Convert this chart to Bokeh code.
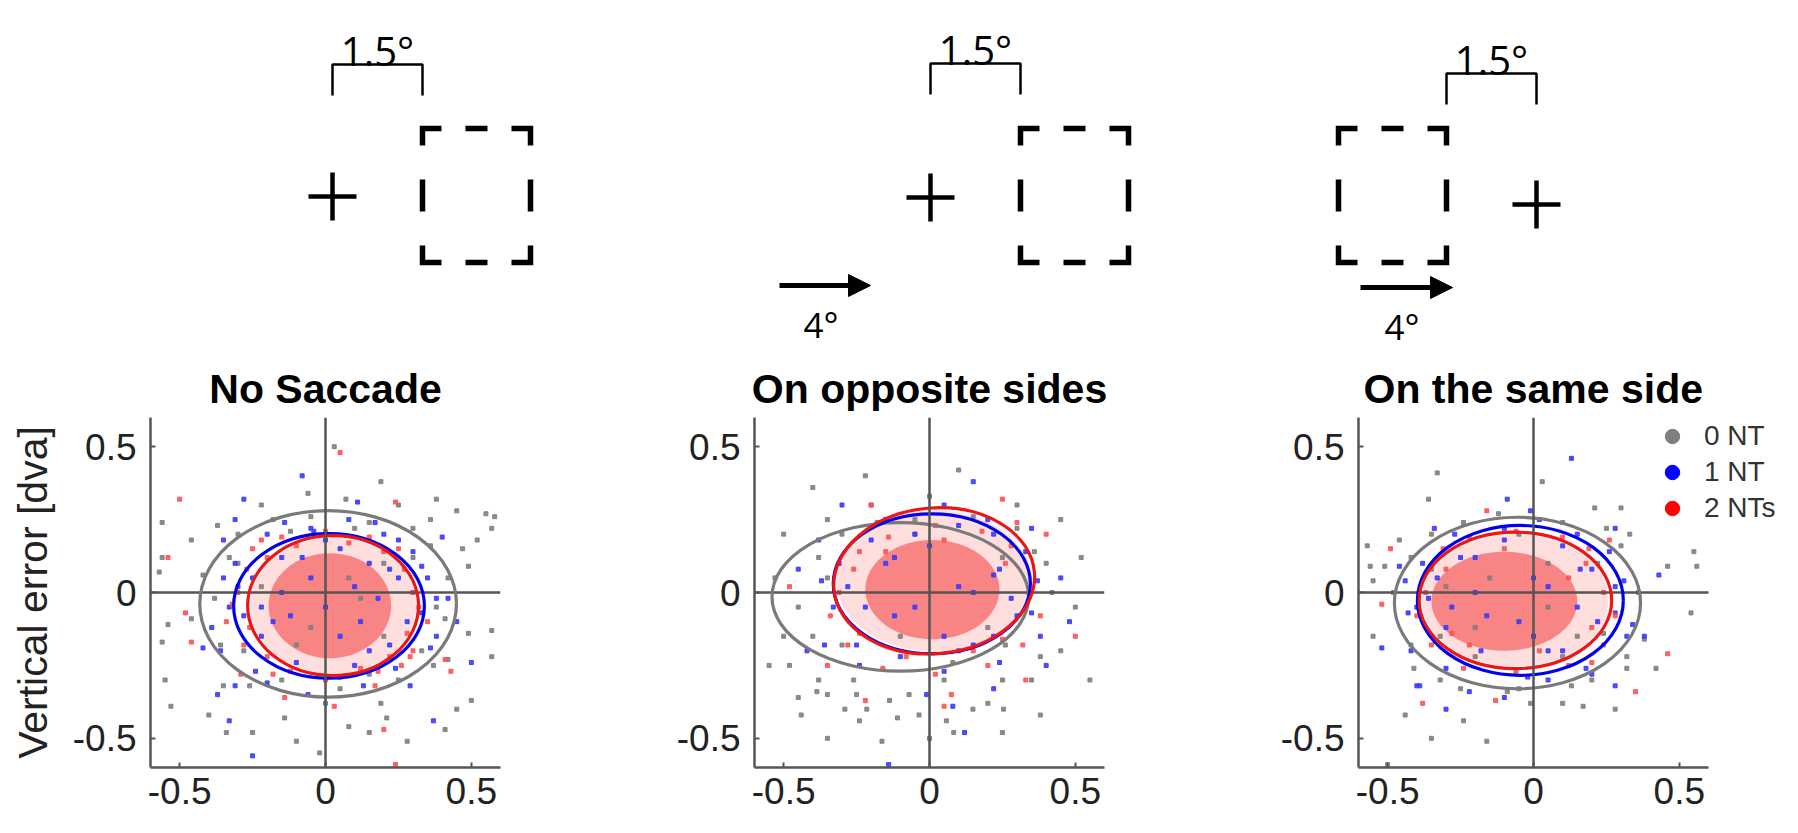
import math
from bokeh.plotting import figure
from bokeh.layouts import column, row
from bokeh.models import (Range1d, Span, FixedTicker, Legend, LegendItem,
                          ColumnDataSource, Arrow, NormalHead)
from bokeh.embed import file_html
from bokeh.resources import INLINE
from bokeh.core.properties import value

# ---------------- data ----------------
conditions = ["No Saccade", "On opposite sides", "On the same side"]
series_labels = ["0 NT", "1 NT", "2 NTs"]
tick_values = [-0.5, 0, 0.5]
tick_labels = ["-0.5", "0", "0.5"]
y_axis_title = "Vertical error [dva]"

# schematic (degrees of visual angle)
gap_deg = [1.5, 1.5, 1.5]          # fixation -> near edge of the target box
target_side = [1, 1, -1]           # target box right (+1) or left (-1) of fixation
saccade_deg = [0, 4, 4]            # saccade amplitude (0 = no saccade)

# error ellipses per panel: (centre x, centre y, semi-axis x, semi-axis y, angle deg)
ellipse_0nt = [(0.009, -0.039, 0.440, 0.320, 0), (-0.100, -0.015, 0.440, 0.255, 0), (-0.055, -0.036, 0.422, 0.294, 0)]
ellipse_1nt = [(0.012, -0.046, 0.327, 0.248, 0), (0.008, 0.030, 0.338, 0.240, 0), (-0.045, -0.027, 0.353, 0.257, 0)]
ellipse_2nts = [(0.026, -0.045, 0.293, 0.240, 0), (0.016, 0.040, 0.345, 0.250, 5), (-0.062, -0.027, 0.330, 0.234, 0)]

# dense core of the 2 NT cloud: (centre x, centre y, semi x, semi y)
core_2nts = [(0.015, -0.045, 0.21, 0.18), (0.010, 0.010, 0.23, 0.17), (-0.100, -0.030, 0.25, 0.17)]

# single trials (x error, y error)
nosac_0nt = [(0.03,0.50),(0.19,0.38),(0.38,0.32),(0.45,0.28),(0.55,0.27),(0.58,0.26),(0.57,0.22),(0.52,0.18),
             (0.49,0.09),(0.57,-0.13),(0.49,-0.14),(0.42,-0.23),(0.57,-0.22),(0.45,-0.40),(0.41,-0.47),(0.28,-0.51),
             (0.21,-0.43),(0.15,-0.48),(0.08,-0.46),(-0.02,-0.55),(-0.10,-0.51),(-0.14,-0.43),(-0.25,-0.48),(-0.34,-0.48),
             (-0.40,-0.42),(-0.53,-0.39),(-0.55,-0.30),(-0.56,-0.17),(-0.54,-0.11),(-0.57,0.07),(-0.56,0.12),(-0.56,0.24),
             (-0.46,0.18),(-0.37,0.23),(-0.22,0.30),(-0.06,0.34),(0.07,0.32),(0.25,0.30),(0.36,0.25),(0.47,0.15),
             (0.19,-0.38),(0.00,-0.38),(-0.35,-0.32),(-0.46,-0.09),(0.41,-0.09),(0.50,-0.37),
             (-0.30,0.10),(-0.28,-0.20),(0.30,0.12),(0.33,-0.20),(0.10,0.22),(-0.12,0.21),(0.15,-0.28),(-0.15,-0.30),
             (-0.38,-0.02),(0.38,-0.05),(0.20,0.10),(-0.05,-0.12),(0.08,0.05),
             (-0.33,0.12),(-0.36,-0.18),(0.36,0.16),(0.37,-0.25),(0.15,0.24),(-0.18,0.25),(0.25,-0.30),(-0.26,-0.32),
             (0.42,0.05),(-0.42,0.06),(0.05,-0.33),(-0.05,0.26),(0.30,0.22),(-0.30,0.20),(0.12,-0.02),(-0.10,-0.18),
             (0.20,-0.15),(-0.22,0.02)]
nosac_1nt = [(-0.08,0.40),(-0.28,0.32),(0.11,0.31),(-0.31,0.25),(-0.35,0.18),(0.40,0.19),(0.45,-0.10),(0.38,-0.02),
             (0.50,-0.24),(0.37,-0.44),(-0.33,-0.44),(-0.25,-0.56),(-0.42,-0.19),(-0.37,-0.35),(-0.31,-0.32),(-0.39,-0.12),
             (0.29,-0.32),(0.13,-0.32),(-0.14,0.24),(-0.04,0.21),(0.17,0.24),(0.25,0.18),(0.33,0.09),(0.42,-0.02),
             (0.36,-0.19),(-0.20,-0.31),(-0.06,-0.35),
             (-0.25,0.05),(-0.22,-0.15),(0.25,0.05),(0.22,-0.18),(0.05,0.15),(-0.08,0.12),(0.10,-0.25),(-0.10,-0.24),
             (-0.28,-0.08),(0.28,-0.10),(0.15,0.10),(-0.15,0.00),(0.00,-0.05),(0.12,-0.10),(-0.05,0.05),(0.18,-0.02),
             (-0.18,-0.10),(0.30,0.00),(-0.30,0.02),(0.00,0.18),
             (-0.33,-0.05),(-0.31,0.10),(0.33,-0.07),(0.30,0.14),(0.20,0.20),(-0.20,0.20),(0.24,-0.26),(-0.24,-0.27),
             (0.05,-0.29),(-0.05,0.22),(0.38,-0.15),(-0.36,-0.20),(0.10,0.02),(-0.12,-0.08),(0.05,-0.15),(0.22,0.08),
             (-0.22,-0.05),(0.08,0.25),(-0.15,0.12),(0.15,-0.20),(0.35,0.05),(-0.35,0.05)]
nosac_2nts = [(0.05,0.48),(-0.50,0.32),(-0.54,0.12),(-0.48,-0.07),(-0.46,-0.17),(0.24,-0.59),(0.41,-0.23),(0.43,-0.27),
              (0.24,0.31),(-0.22,0.18),(0.03,-0.39),(-0.14,-0.36),(0.29,-0.22),(0.17,-0.32),(-0.29,-0.28),(0.20,-0.47),
              (-0.27,0.08),(-0.26,-0.12),(0.27,0.08),(0.28,-0.14),(0.08,0.17),(-0.10,0.16),(0.12,-0.26),(-0.12,-0.27),
              (0.20,0.14),(-0.20,0.12),(0.22,-0.22),(-0.20,-0.22),(0.32,-0.05),(-0.32,-0.04),
              (-0.30,0.00),(-0.28,-0.18),(0.30,0.00),(0.30,-0.20),(0.15,0.19),(-0.15,0.19),(0.18,-0.27),(-0.18,-0.28),
              (0.00,0.21),(0.00,-0.30),(0.25,0.15),(-0.25,0.15),(0.35,-0.10),(-0.34,-0.10),(0.26,-0.25)]

opp_0nt = [(-0.40,0.36),(-0.22,0.40),(0.10,0.42),(0.30,0.30),(0.45,0.25),(0.52,0.12),(0.50,-0.05),(0.45,-0.20),
           (0.35,-0.30),(0.20,-0.38),(-0.25,-0.35),(-0.38,-0.30),(-0.50,-0.15),(-0.53,0.05),(-0.50,0.20),(-0.45,-0.36),
           (0.25,-0.48),(0.38,-0.42),(0.55,-0.30),(-0.20,0.30),(0.00,0.33),(0.40,0.10),(-0.55,-0.25),(-0.35,0.25),
           (-0.44,-0.42),(-0.35,-0.50),(-0.29,-0.40),(-0.24,-0.44),(-0.215,-0.40),(-0.163,-0.51),(-0.11,-0.43),
           (-0.036,-0.42),(-0.137,-0.37),(-0.386,-0.34),(0.00,-0.50),(0.058,-0.44),(0.083,-0.48),(0.149,-0.40),
           (0.254,-0.40),(-0.07,-0.35),
           (-0.35,0.05),(-0.30,-0.18),(0.25,0.12),(0.26,-0.18),(-0.05,0.20),(0.08,-0.24),
           (-0.38,0.12),(-0.40,-0.15),(0.36,0.14),(0.38,-0.22),(0.15,0.26),(-0.18,0.24),(0.25,-0.30),(-0.26,-0.30),
           (-0.45,-0.05),(0.05,-0.30),(-0.05,0.25),(0.30,0.22),(-0.30,0.20),(-0.10,-0.15),(0.20,-0.12),(-0.48,-0.25),
           (-0.35,-0.35),(0.42,0.00)]
opp_1nt = [(-0.30,0.30),(0.15,0.38),(0.35,0.22),(0.48,-0.10),(0.40,-0.25),(0.22,-0.33),(-0.14,-0.59),(0.12,-0.48),
           (0.08,-0.39),(-0.01,-0.35),(-0.42,-0.20),(-0.45,0.08),(-0.38,0.18),(0.05,0.30),(-0.15,0.25),(0.30,-0.08),
           (0.20,0.25),(0.45,0.05),
           (-0.28,0.02),(-0.25,-0.18),(0.24,0.08),(0.22,-0.15),(0.00,0.16),(-0.12,0.12),(0.10,-0.20),(-0.10,-0.22),
           (0.15,0.00),(-0.05,-0.05),(0.28,-0.02),
           (-0.33,-0.05),(-0.31,0.10),(0.35,-0.07),(0.33,0.14),(0.22,0.20),(-0.20,0.18),(0.24,-0.24),(-0.24,-0.25),
           (0.05,-0.27),(-0.05,0.20),(0.38,-0.15),(-0.36,-0.18),(0.10,0.02),(-0.12,-0.08),(0.05,-0.15),(0.22,0.06),
           (-0.22,-0.05),(0.10,0.23),(-0.15,0.10),(0.15,-0.18),(0.37,0.04),(-0.37,0.04)]
opp_2nts = [(-0.22,-0.37),(0.05,-0.39),(0.075,-0.35),(0.40,0.20),(-0.48,0.02),(0.50,-0.15),(0.25,0.32),(-0.35,-0.25),
            (0.33,-0.30),(-0.20,0.30),
            (-0.26,0.08),(-0.24,-0.14),(0.26,0.10),(0.25,-0.16),(0.05,0.18),(-0.08,-0.22),(0.15,-0.20),(-0.15,0.14),
            (-0.31,0.00),(-0.28,-0.18),(0.34,0.00),(0.32,-0.18),(0.18,0.21),(-0.14,0.19),(0.20,-0.25),(-0.16,-0.26),
            (0.02,0.23),(0.02,-0.28),(0.28,0.16),(-0.24,0.14),(0.38,-0.08),(-0.34,-0.08),(0.30,0.24)]

same_0nt = [(-0.33,0.41),(-0.36,0.32),(0.03,0.38),(0.21,0.29),(0.30,0.29),(0.33,0.20),(0.46,0.09),(0.55,0.14),
            (0.56,0.09),(0.54,-0.07),(0.38,-0.16),(0.42,-0.26),(0.32,-0.26),(0.17,-0.39),(0.28,-0.40),(0.10,-0.38),
            (-0.01,-0.38),(-0.16,-0.51),(-0.24,-0.44),(-0.35,-0.50),(-0.44,-0.42),(-0.50,-0.59),(-0.55,0.04),(-0.56,0.09),
            (-0.57,0.16),(-0.51,0.09),(-0.46,0.18),(-0.55,-0.15),(-0.41,-0.26),(-0.25,-0.33),(-0.09,-0.34),(0.13,-0.32),
            (-0.35,0.08),(-0.32,-0.15),(0.22,0.10),(0.24,-0.14),(-0.05,0.20),(0.10,-0.22),(-0.20,-0.22),(0.05,0.10),
            (-0.15,0.05),
            (-0.42,0.12),(-0.42,-0.18),(0.30,0.16),(0.32,-0.22),(0.10,0.24),(-0.24,0.24),(0.20,-0.30),(-0.32,-0.30),
            (-0.48,0.00),(0.36,0.00),(-0.05,-0.33),(-0.12,0.27),(0.25,0.22),(-0.35,0.20),(0.05,-0.05),(-0.20,-0.12),
            (0.15,-0.15),(-0.30,0.02)]
same_1nt = [(0.13,0.46),(-0.09,0.32),(0.28,0.22),(0.43,0.06),(0.38,-0.15),(0.28,-0.32),(-0.22,-0.34),(-0.39,-0.32),
            (-0.52,-0.19),(-0.46,0.09),(-0.34,0.22),(-0.01,0.28),(-0.10,-0.36),(0.05,-0.30),(0.20,-0.28),(0.34,-0.11),
            (-0.43,-0.07),(-0.30,-0.40),(-0.40,-0.32),
            (-0.33,0.05),(-0.30,-0.12),(0.20,0.08),(0.22,-0.10),(-0.10,0.18),(0.10,0.16),(0.05,-0.20),(-0.18,-0.20),
            (-0.25,0.12),(0.15,-0.05),(-0.05,-0.10),(0.00,0.05),(-0.20,0.00),(0.28,0.02),(-0.36,-0.02),
            (-0.40,-0.05),(-0.38,0.10),(0.28,-0.07),(0.26,0.14),(0.15,0.20),(-0.27,0.20),(0.18,-0.26),(-0.30,-0.26),
            (-0.02,-0.29),(-0.10,0.22),(0.32,-0.15),(-0.42,-0.20),(0.05,0.02),(-0.16,-0.08),(0.00,-0.15),(0.16,0.08),
            (-0.28,-0.05),(0.02,0.25),(-0.20,0.12),(0.10,-0.20),(0.31,0.04),(-0.44,0.04)]
same_2nts = [(-0.49,0.15),(-0.52,-0.04),(-0.38,-0.38),(0.35,-0.34),(0.46,-0.21),(-0.16,0.28),(-0.13,-0.37),(0.26,0.18),
             (-0.30,0.08),(-0.28,-0.14),(0.18,0.10),(0.20,-0.12),(-0.10,0.15),(0.02,-0.20),(-0.22,-0.18),(0.12,0.05),
             (-0.37,0.00),(-0.35,-0.18),(0.24,0.00),(0.24,-0.18),(0.10,0.19),(-0.22,0.19),(0.12,-0.25),(-0.24,-0.26),
             (-0.06,0.21),(-0.06,-0.27),(0.19,0.15),(-0.31,0.15),(0.28,-0.08),(-0.40,-0.08),(0.20,-0.24)]

trials = [[nosac_0nt, nosac_1nt, nosac_2nts],
          [opp_0nt, opp_1nt, opp_2nts],
          [same_0nt, same_1nt, same_2nts]]
ellipses = [ellipse_0nt, ellipse_1nt, ellipse_2nts]

# ---------------- style / layout ----------------
FONT = "Liberation Sans"
SCHEM_FONT = "Open Sans"
point_colors = ["#7f7f7f", "#3a3aff", "#ff5252"]
line_colors = ["#7a7a7a", "#0000ee", "#ee1515"]
legend_colors = ["#7f7f7f", "#0000ff", "#ff0000"]
X_LIM = 0.6
FRAME = 350
PX_PER_UNIT = FRAME / (2 * X_LIM)
PANEL_W = [604, 604, 574]
EXTRA_RIGHT = [0, 0, 74]          # last panel: frame widened so the legend is not clipped
BORDER_R = [104, 104, 0]
TOP_H = 350
PANEL_H = 467

# ---------------- top schematic ----------------
PX_PER_DEG = 60
fix_px = [332, 930, 1536]
fix_py = [196, 197, 204]
bracket_top = [64, 63, 73]
BOX_W, BOX_TOP, BOX_BOT = 108, 128, 262
arrow_end_px = [None, 870, 1452]
ARROW_LEN, ARROW_Y = [None, 91, 92], [None, 285, 287]

top = figure(width=1782, height=TOP_H, x_range=Range1d(0, 1782), y_range=Range1d(TOP_H, 0),
             output_backend="svg", toolbar_location=None, min_border=0,
             x_axis_location=None, y_axis_location=None)
top.grid.visible = False
top.outline_line_color = None

top.scatter(x=fix_px, y=fix_py, marker="cross", size=48, line_width=4.5, line_color="black")

br_xs, br_ys, tx, ty, tt = [], [], [], [], []
box_xs, box_ys = [], []
for i in range(3):
    f = fix_px[i]
    near = f + target_side[i] * gap_deg[i] * PX_PER_DEG
    a, b = sorted([f, near])
    t = bracket_top[i]
    br_xs.append([a, a, b, b]); br_ys.append([t + 31, t, t, t + 31])
    tx.append((a + b) / 2); ty.append(t - 14); tt.append(f"{gap_deg[i]}°")
    far = near + target_side[i] * BOX_W
    L, R = sorted([near, far])
    T, B = BOX_TOP, BOX_BOT
    ch, cv, mh, mv = 19, 17, 22, 32
    cx, cy = (L + R) / 2, (T + B) / 2
    box_xs += [[L + ch, L, L], [R - ch, R, R], [L + ch, L, L], [R - ch, R, R],
               [cx - mh / 2, cx + mh / 2], [cx - mh / 2, cx + mh / 2], [L, L], [R, R]]
    box_ys += [[T, T, T + cv], [T, T, T + cv], [B, B, B - cv], [B, B, B - cv],
               [T, T], [B, B], [cy - mv / 2, cy + mv / 2], [cy - mv / 2, cy + mv / 2]]

top.multi_line(xs=br_xs, ys=br_ys, line_width=2.5, line_color="black")
top.text(x=tx, y=ty, text=tt, text_align="center", text_baseline="alphabetic",
         text_font=value(SCHEM_FONT), text_font_size="40px", text_color="black")
top.multi_line(xs=box_xs, ys=box_ys, line_width=5.5, line_color="black",
               line_cap="butt", line_join="miter")

ax0, ax1, ay, lx, ly, lt = [], [], [], [], [], []
for i in range(3):
    if saccade_deg[i]:
        e = arrow_end_px[i]
        ax0.append(e - ARROW_LEN[i]); ax1.append(e); ay.append(ARROW_Y[i])
        lx.append(e - ARROW_LEN[i] + 24); ly.append(ARROW_Y[i] + 39); lt.append(f"{saccade_deg[i]}°")
arrow_src = ColumnDataSource(dict(x0=ax0, x1=ax1, y=ay))
top.add_layout(Arrow(source=arrow_src, x_start="x0", y_start="y", x_end="x1", y_end="y",
                     line_width=5, line_color="black",
                     end=NormalHead(size=22, fill_color="black", line_color="black", line_width=1)))
top.text(x=lx, y=ly, text=lt, text_align="left", text_baseline="alphabetic",
         text_font=value(SCHEM_FONT), text_font_size="35px", text_color="black")

# ---------------- scatter panels ----------------
panels = []
for i in range(3):
    x_end = -X_LIM + (FRAME + EXTRA_RIGHT[i]) / PX_PER_UNIT
    p = figure(width=PANEL_W[i], height=PANEL_H, x_range=Range1d(-X_LIM, x_end), y_range=Range1d(-X_LIM, X_LIM),
               output_backend="svg", toolbar_location=None,
               min_border_left=150, min_border_right=BORDER_R[i], min_border_top=67, min_border_bottom=50)
    p.grid.visible = False
    p.outline_line_color = None
    p.title.text = conditions[i]
    p.title.align = "center"
    p.title.text_font = FONT
    p.title.text_font_size = "41px"
    p.title.text_font_style = "bold"
    p.title.text_color = "black"
    p.title.standoff = 12
    if EXTRA_RIGHT[i]:
        # widened frame: left-align the title so that it stays centred over the axis area
        p.title.align = "left"
        p.title.offset = 5
    for ax in (p.xaxis[0], p.yaxis[0]):
        ax.ticker = FixedTicker(ticks=tick_values)
        ax.major_label_overrides = {v: s for v, s in zip(tick_values, tick_labels)}
        ax.bounds = (-X_LIM, X_LIM)
        ax.axis_line_color = "#555555"
        ax.axis_line_width = 2.5
        ax.major_tick_line_color = "#555555"
        ax.major_tick_line_width = 2
        ax.major_tick_in = 5
        ax.major_tick_out = 0
        ax.minor_tick_line_color = None
        ax.major_label_text_font = FONT
        ax.major_label_text_font_size = "37px"
        ax.major_label_text_color = "#222222"
    p.xaxis.major_label_standoff = 10
    p.yaxis.major_label_standoff = 14
    if i == 0:
        p.yaxis.axis_label = y_axis_title
        p.yaxis.axis_label_text_font = FONT
        p.yaxis.axis_label_text_font_size = "41px"
        p.yaxis.axis_label_text_font_style = "normal"
        p.yaxis.axis_label_text_color = "#222222"
        p.yaxis.axis_label_standoff = 14

    # dense core of the 2 NT cloud
    ccx, ccy, csx, csy = core_2nts[i]
    rx, ry, rsx, rsy, _ = ellipse_2nts[i]
    p.ellipse(x=[rx], y=[ry], width=[2 * rsx * 0.97], height=[2 * rsy * 0.97],
              fill_color="#ff8a8a", fill_alpha=0.28, line_color=None)
    p.ellipse(x=[ccx], y=[ccy], width=[2 * csx], height=[2 * csy],
              fill_color="#f87474", fill_alpha=0.85, line_color=None)

    for s in range(3):
        pts = trials[i][s]
        p.scatter(x=[q[0] for q in pts], y=[q[1] for q in pts], marker="square", size=4,
                  fill_color=point_colors[s], line_color=point_colors[s], alpha=0.9)

    p.segment(x0=[-X_LIM], y0=[0], x1=[X_LIM], y1=[0], line_color="#555555", line_width=2.5)
    p.add_layout(Span(location=0, dimension="height", line_color="#555555", line_width=2.5))

    for s in range(3):
        ex, ey, sx, sy, ang = ellipses[s][i]
        p.ellipse(x=[ex], y=[ey], width=[2 * sx], height=[2 * sy], angle=[math.radians(ang)],
                  fill_color=None, line_color=line_colors[s], line_width=3.2)

    if i == 2:
        items = []
        for s in range(3):
            r = p.scatter(x=[float("nan")], y=[float("nan")], marker="circle", size=15,
                          fill_color=legend_colors[s], line_color=legend_colors[s])
            items.append(LegendItem(label=series_labels[s], renderers=[r]))
        leg = Legend(items=items, location=(296, 241), glyph_width=36, glyph_height=36,
                     label_standoff=14, padding=0, margin=0, spacing=0,
                     border_line_color=None, background_fill_alpha=0,
                     label_text_font=FONT, label_text_font_size="28px", label_text_color="#333333")
        p.add_layout(leg)
    panels.append(p)

layout = column(top, row(*panels, spacing=0), spacing=0)
open("out.html", "w").write(file_html(layout, INLINE))
